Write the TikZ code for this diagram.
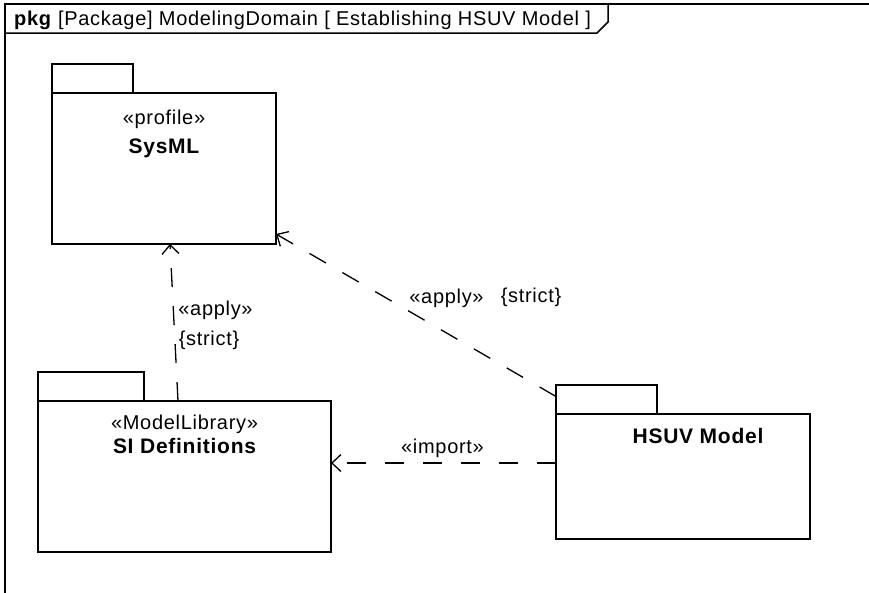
\documentclass[tikz,border=0pt]{standalone}
\usepackage{fontspec}
\setmainfont{Liberation Sans}[LetterSpace=3.5]
\usetikzlibrary{arrows.meta}

\begin{document}
\begin{tikzpicture}[x=1pt,y=-1pt,line join=miter,
  font=\fontsize{20}{24}\selectfont,
  pkgbody/.style={draw,line width=1.5pt,inner sep=0pt,outer sep=0pt,anchor=north west},
  pkgtab/.style={draw,line width=1.5pt,inner sep=0pt,outer sep=0pt,anchor=south west,
    minimum width=#1,minimum height=29pt},
  pkgname/.style={anchor=base,font=\fontsize{21}{24}\selectfont\bfseries},
  dep/.style={line width=1.3pt,dash pattern=on 19pt off 19pt,
    -{Straight Barb[length=9pt,width=17pt,line width=1.3pt]}}]
  \useasboundingbox (0,0) rectangle (869,592);
  % frame and header
  \draw[line width=1.5pt] (5,600) -- (5,4) -- (875,4);
  \draw[line width=1.5pt] (5,33) -- (597,33) -- (608,22) -- (608,4);
  \node[anchor=base west,inner sep=0pt] (hdr) at (14,25)
    {\textbf{pkg} [Package] ModelingDomain [ Establishing HSUV Model ]};
  % packages
  \node[pkgbody,minimum width=224pt,minimum height=151pt] (sysml) at (52,93) {};
  \node[pkgtab=81pt] (sysmltab) at (sysml.north west) {};
  \node[anchor=base] (sysmlst) at (164,124) {«profile»};
  \node[pkgname] (sysmlname) at (164,153) {SysML};
  \node[pkgbody,minimum width=293pt,minimum height=151pt] (sidef) at (38,401) {};
  \node[pkgtab=106pt] (sideftab) at (sidef.north west) {};
  \node[anchor=base] (sidefst) at (184.5,429) {«ModelLibrary»};
  \node[pkgname] (sidefname) at (184.5,453) {SI Definitions};
  \node[pkgbody,minimum width=254pt,minimum height=125pt] (hsuv) at (556,414) {};
  \node[pkgtab=101pt] (hsuvtab) at (hsuv.north west) {};
  \node[pkgname] (hsuvname) at (698,443) {HSUV Model};
  % dependencies
  \draw[dep] ([xshift=140pt]sidef.north west) -- ([xshift=118pt]sysml.south west);
  \draw[dep] ([yshift=3pt]hsuvtab.west) -- ([yshift=10pt]sysml.south east);
  \draw[dep] ([yshift=13.5pt]hsuv.west) -- ([yshift=13.5pt]sidef.east);
  \node[anchor=base] (apply1) at (215.5,315) {«apply»};
  \node[anchor=base] (strict1) at (209,345) {\{strict\}};
  \node[anchor=base] (apply2) at (446.5,303) {«apply»};
  \node[anchor=base] (strict2) at (531,302) {\{strict\}};
  \node[anchor=base] (import) at (442.5,453) {«import»};
\end{tikzpicture}
\end{document}
